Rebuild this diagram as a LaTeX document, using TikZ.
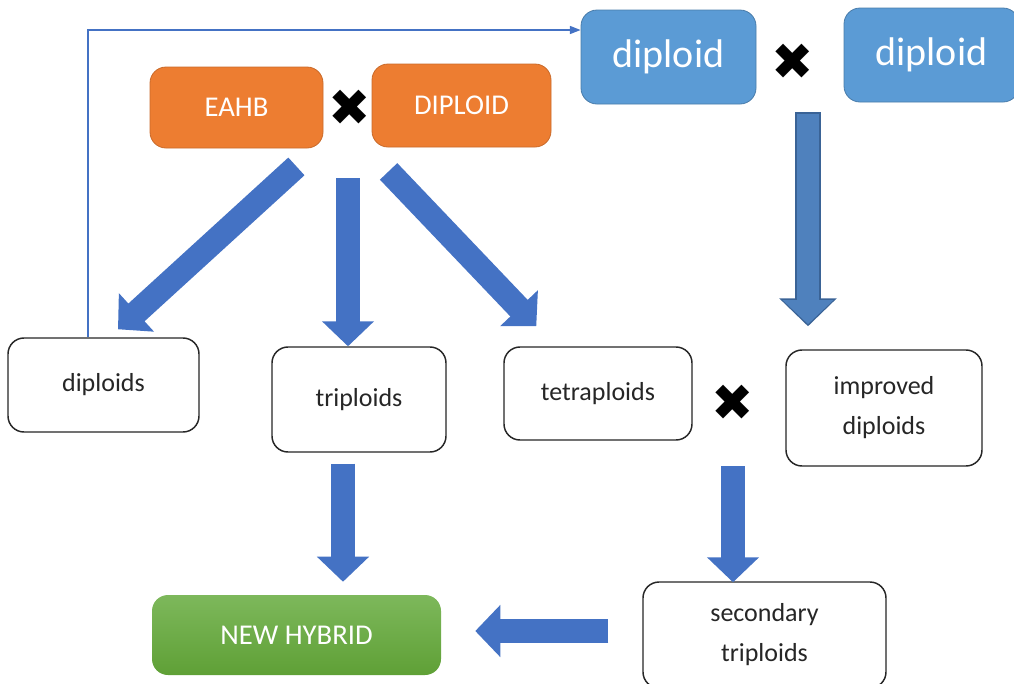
\documentclass[tikz,border=0pt]{standalone}
\usepackage{fontspec}
\setmainfont{Carlito}
\newfontfamily\symfont{DejaVu Sans}
\usetikzlibrary{arrows.meta}

\definecolor{parentorange}{HTML}{ED7D31}
\definecolor{parentblue}{HTML}{5B9BD5}
\definecolor{flowblue}{HTML}{4472C4}
\definecolor{darkflow}{HTML}{4F81BD}
\definecolor{darkedge}{HTML}{3A6396}
\definecolor{hybridtop}{HTML}{7DB85B}
\definecolor{hybridbottom}{HTML}{5FA036}

\begin{document}
\begin{tikzpicture}[x=0.75pt, y=-0.75pt,
    box/.style={draw=black!85, line width=1.1pt, rounded corners=12pt, fill=white,
        text=black!85, font=\fontsize{19.5}{30}\selectfont, align=center, inner sep=0pt},
    orangebox/.style={draw=parentorange!85!black, line width=0.6pt, rounded corners=12pt,
        fill=parentorange, text=white, font=\fontsize{21.5}{24}\selectfont, inner sep=0pt},
    bluebox/.style={draw=parentblue!80!black, line width=0.6pt, rounded corners=12pt,
        fill=parentblue, text=white, font=\fontsize{30}{34}\selectfont, inner sep=0pt},
    greenbox/.style={rounded corners=12pt, top color=hybridtop, bottom color=hybridbottom,
        text=white, font=\fontsize{21.5}{24}\selectfont, inner sep=0pt},
    cross/.style={font=\symfont\fontsize{38}{38}\selectfont, inner sep=0pt},
    bigarrow/.style={draw=flowblue, line width=18pt, -{Triangle[length=18.75pt, width=38pt]}},
    thinarrow/.style={draw=flowblue, line width=1.1pt, -{Triangle[length=8pt, width=6pt]}}]

    \useasboundingbox (0,0) rectangle (1014,683);

    % parents
    \node[bluebox, minimum width=131.25pt, minimum height=70.5pt]   (bluea)     at (668.5,57)  {diploid};
    \node[cross]                                                    (crossa)    at (793,62)    {✖};
    \node[bluebox, minimum width=131.25pt, minimum height=70.5pt]   (blueb)     at (931.5,55)  {diploid};
    \node[orangebox, minimum width=129.75pt, minimum height=60.75pt] (eahb)     at (236.5,107.5) {EAHB};
    \node[cross]                                                    (crossb)    at (350,108)   {✖};
    \node[orangebox, minimum width=134.25pt, minimum height=62.25pt] (dipo)     at (461.5,105.5) {DIPLOID};

    % progeny
    \node[box, minimum width=143.25pt, minimum height=70.5pt]       (diploids)  at (103.5,385) {diploids};
    \node[box, minimum width=130.5pt, minimum height=78.75pt]       (triploids) at (359,399.5) {triploids};
    \node[box, minimum width=141pt, minimum height=69.75pt]         (tetra)     at (598,393.5) {tetraploids};
    \node[cross]                                                    (crossc)    at (733,403)   {✖};
    \node[box, minimum width=147pt, minimum height=87pt]            (improved)  at (884,408)   {improved\\diploids};
    \node[greenbox, minimum width=216.75pt, minimum height=60pt]    (hybrid)    at (296.5,635) {NEW HYBRID};
    \node[box, minimum width=182.25pt, minimum height=79.5pt]       (secondary) at (764.5,635) {secondary\\triploids};

    \draw[bigarrow] ([shift={(-27,18)}]eahb.south east) -- ([shift={(14.5,-8)}]diploids.north);
    \draw[bigarrow] ([shift={(-2,70)}]crossb.center)     -- ([shift={(-11,0)}]triploids.north);
    \draw[bigarrow] ([shift={(17,24)}]dipo.south west)   -- ([shift={(33,-20)}]tetra.north west);
    \draw[bigarrow] ([shift={(-16,11)}]triploids.south)  -- ([shift={(46.5,-13)}]hybrid.north);
    \draw[bigarrow] ([shift={(0,63)}]crossc.center)      -- ([shift={(-31.5,1)}]secondary.north);
    \draw[bigarrow] ([shift={(-34,-4)}]secondary.west)   -- ([shift={(34,-4)}]hybrid.east);

    % improved diploids arrow (outlined)
    \draw[draw=darkedge, line width=20pt, -{Triangle[length=21pt, width=42pt]}]
        ([shift={(15,50)}]crossa.center) -- ([shift={(-76,-23)}]improved.north);
    \draw[draw=darkflow, line width=17pt, -{Triangle[length=18pt, width=37pt]}, shorten <=1.2pt, shorten >=1.6pt]
        ([shift={(15,50)}]crossa.center) -- ([shift={(-76,-23)}]improved.north);

    \draw[thinarrow] ([shift={(-15.5,0)}]diploids.north) |- ([shift={(0,-27)}]bluea.west);
\end{tikzpicture}
\end{document}
